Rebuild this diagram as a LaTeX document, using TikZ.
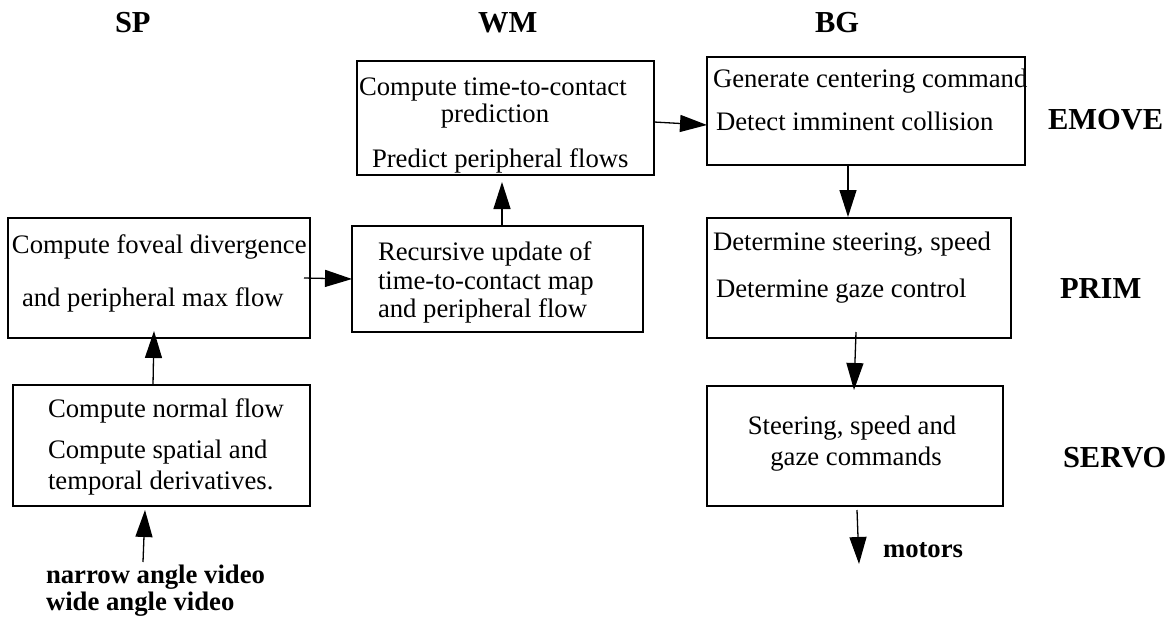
\documentclass[tikz,border=0pt]{standalone}
\usepackage{fontspec}
\setmainfont{Liberation Serif}
\usetikzlibrary{arrows.meta}
\begin{document}
\begin{tikzpicture}[x=1pt,y=-1pt,
  box/.style={draw=black,line width=1.4pt,rectangle,inner sep=0pt,outer sep=0pt},
  txt/.style={inner sep=0pt,outer sep=0pt,anchor=base west,font=\fontsize{26.7}{28.5}\selectfont},
  ctxt/.style={inner sep=0pt,outer sep=0pt,anchor=base,font=\fontsize{26.7}{28.5}\selectfont},
  lvl/.style={inner sep=0pt,outer sep=0pt,anchor=base west,font=\fontsize{30.5}{32}\selectfont\bfseries},
  btxt/.style={inner sep=0pt,outer sep=0pt,anchor=base west,font=\fontsize{26.7}{28.5}\selectfont\bfseries},
  arr/.style={line width=1.3pt,-{Triangle[length=27pt,width=17pt]}}]
\useasboundingbox (0,0) rectangle (1174,618);

% column headers
\node[lvl] (hsp) at (115,33) {SP};
\node[lvl] (hwm) at (478,33) {WM};
\node[lvl] (hbg) at (815,33) {BG};
% row labels
\node[lvl] (lemove) at (1048,129) {EMOVE};
\node[lvl] (lprim)  at (1060,298) {PRIM};
\node[lvl] (lservo) at (1063,467) {SERVO};

% boxes
\node[box,minimum width=302pt,minimum height=120pt] (A) at (159,278) {};
\node[box,minimum width=297pt,minimum height=121pt] (B) at (161.5,445.5) {};
\node[box,minimum width=291pt,minimum height=106pt] (C) at (497.5,279) {};
\node[box,minimum width=297pt,minimum height=114pt] (D) at (505.5,118) {};
\node[box,minimum width=318pt,minimum height=108pt] (E) at (866,111) {};
\node[box,minimum width=304pt,minimum height=120pt] (F) at (859,278) {};
\node[box,minimum width=296pt,minimum height=120pt] (G) at (855,446) {};

% box texts
\node[txt] (a1) at (12,253) {Compute foveal divergence};
\node[txt] (a2) at (22,306) {and peripheral max flow};

\node[txt] (b1) at (48,417) {Compute normal flow};
\node[txt] (b2) at (48,458) {Compute spatial and};
\node[txt] (b3) at (48,489) {temporal derivatives.};

\node[txt] (c1) at (378,260) {Recursive update of};
\node[txt] (c2) at (378,289) {time-to-contact map};
\node[txt] (c3) at (378,317) {and peripheral flow};

\node[txt]  (d1) at (359,95) {Compute time-to-contact};
\node[ctxt] (d2) at (495,122) {prediction};
\node[txt]  (d3) at (372,167) {Predict peripheral flows};

\node[txt] (e1) at (713,87) {Generate centering command};
\node[txt] (e2) at (716,130) {Detect imminent collision};

\node[txt] (f1) at (713,250) {Determine steering, speed};
\node[txt] (f2) at (716,297) {Determine gaze control};

\node[ctxt] (g1) at (852,434) {Steering, speed and};
\node[ctxt] (g2) at (856,465) {gaze commands};

% inputs / outputs
\node[btxt] (vin1) at (46,583) {narrow angle video};
\node[btxt] (vin2) at (46,610) {wide angle video};
\node[btxt] (mot) at (883,557) {motors};
\coordinate (vstart) at (143,562);
\coordinate (mend) at (859,564);

% connectors
\draw[arr] (vstart) -- ([xshift=-16.5pt,yshift=-4pt]B.south);
\draw[arr] ([xshift=-8.5pt]B.north) -- ([xshift=-5pt,yshift=7pt]A.south);
\draw[arr] ([xshift=-6pt]A.east) -- ([yshift=0pt]C.west);
\draw[arr] ([xshift=4.5pt]C.north) -- ([xshift=-3.5pt,yshift=-7pt]D.south);
\draw[arr] ([yshift=-4pt]D.east) -- ([yshift=-14pt]E.west);
\draw[arr] ([xshift=-18pt]E.south) -- ([xshift=-11pt,yshift=1pt]F.north);
\draw[arr] ([xshift=-3pt,yshift=6pt]F.south) -- ([xshift=-1pt,yshift=-4pt]G.north);
\draw[arr] ([xshift=2pt,yshift=-4pt]G.south) -- (mend);
\end{tikzpicture}
\end{document}
